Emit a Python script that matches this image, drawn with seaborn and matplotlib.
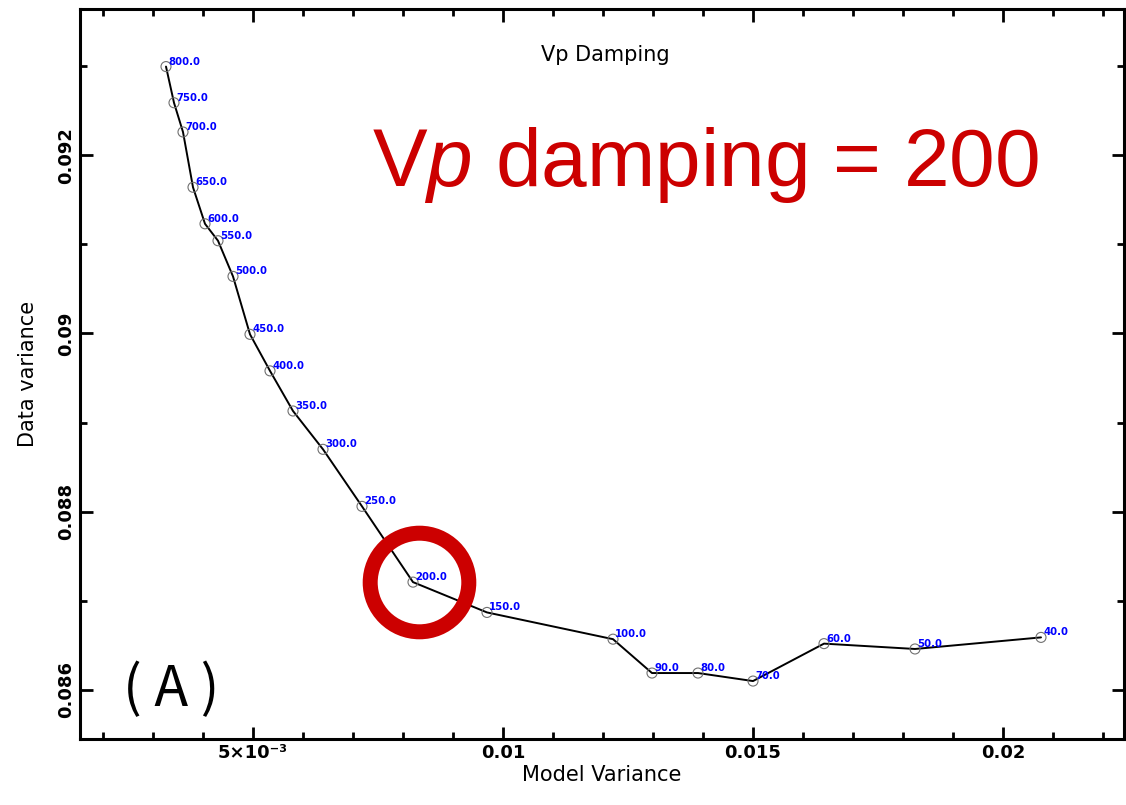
import numpy as np
import pandas as pd
import matplotlib
matplotlib.use("Agg")
import matplotlib.pyplot as plt
import matplotlib.transforms as mtransforms
import seaborn as sns

# damping values and the resulting model / data variances
damping = [800, 750, 700, 650, 600, 550, 500, 450, 400, 350, 300, 250, 200,
           150, 100, 90, 80, 70, 60, 50, 40]
model_var = [0.00326, 0.00342, 0.00360, 0.00380, 0.00404, 0.00430, 0.00460,
             0.00494, 0.00534, 0.00580, 0.00640, 0.00718, 0.00820, 0.00968,
             0.01220, 0.01298, 0.01390, 0.01500, 0.01642, 0.01824, 0.02076]
data_var = [0.092994, 0.092588, 0.09226, 0.09164, 0.09123, 0.09104, 0.09064,
            0.08999, 0.08958, 0.08913, 0.08870, 0.08806, 0.08721, 0.08687,
            0.08657, 0.08619, 0.08619, 0.08610, 0.08652, 0.08646, 0.08659]

chosen = 200
x_major = [0.005, 0.01, 0.015, 0.02]
x_major_labels = ["5×10⁻³", "0.01", "0.015", "0.02"]
y_major = [0.086, 0.088, 0.090, 0.092]
y_major_labels = ["0.086", "0.088", "0.09", "0.092"]

df = pd.DataFrame({"damping": damping, "model": model_var, "data": data_var})

sns.set_style("ticks")
plt.rcParams['font.family'] = ['DejaVu Sans']
plt.rcParams['text.color'] = 'black'
plt.rcParams['axes.labelcolor'] = 'black'
plt.rcParams['axes.edgecolor'] = 'black'
plt.rcParams['xtick.color'] = 'black'
plt.rcParams['ytick.color'] = 'black'
plt.rcParams['mathtext.fontset'] = 'custom'
plt.rcParams['mathtext.rm'] = 'Liberation Sans'
plt.rcParams['mathtext.it'] = 'Liberation Sans:italic'

fig = plt.figure(figsize=(11.26, 8.05), dpi=100)
ax = fig.add_axes([80 / 1126, 66 / 805, 1044 / 1126, 730 / 805])

sns.lineplot(data=df, x="model", y="data", sort=False, color="black",
             linewidth=1.4, ax=ax)
sns.scatterplot(data=df, x="model", y="data", s=52, facecolor="none",
                edgecolor="#707070", linewidth=0.8, ax=ax, zorder=3)

for _, r in df.iterrows():
    ax.annotate(f"{r['damping']:.1f}", (r["model"], r["data"]),
                xytext=(1.5, 3.6), textcoords="offset points",
                ha="left", va="center", fontsize=7.3, fontweight="bold",
                color="#0000ff")

# red ring around the chosen damping
sel = df[df["damping"] == chosen]
ring_tr = mtransforms.offset_copy(ax.transData, fig=fig, x=4.3, y=0, units="points")
ax.plot(sel["model"], sel["data"], marker="o", markersize=71,
        markerfacecolor="none", markeredgecolor="#cc0000",
        markeredgewidth=10.8, linestyle="none", transform=ring_tr, zorder=4)

ax.set_xlim(0.00154, 0.02242)
ax.set_ylim(0.08545, 0.09364)

ax.set_xticks(x_major)
ax.set_xticklabels(x_major_labels)
ax.set_xticks(np.arange(0.002, 0.0225, 0.001), minor=True)
ax.set_yticks(y_major)
ax.set_yticklabels(y_major_labels, rotation=90, va="center")
ax.set_yticks(np.arange(0.086, 0.0935, 0.001), minor=True)

ax.tick_params(which="both", direction="in", top=True, right=True,
               width=2, labelsize=13)
ax.tick_params(which="major", length=9)
ax.tick_params(which="minor", length=5)
for lab in ax.get_xticklabels() + ax.get_yticklabels():
    lab.set_fontweight("bold")
for sp in ax.spines.values():
    sp.set_linewidth(2.2)
    sp.set_visible(True)

ax.set_xlabel("Model Variance", fontsize=15, labelpad=2)
ax.set_ylabel("Data variance", fontsize=15, labelpad=14)

ax.text(0.503, 0.937, "Vp Damping", transform=ax.transAxes, ha="center",
        va="center", fontsize=15)
ax.text(0.2797, 0.7575, r"V$\mathit{p}$ damping = 200", transform=ax.transAxes,
        ha="left", va="baseline", fontsize=59, color="#cc0000",
        family="Liberation Sans")
ax.text(0.087, 0.067, "( A )", transform=ax.transAxes, ha="center",
        va="center", fontsize=40, fontweight="light",
        family=["Noto Sans CJK SC", "DejaVu Sans"])

fig.savefig("out.png", dpi=100)
